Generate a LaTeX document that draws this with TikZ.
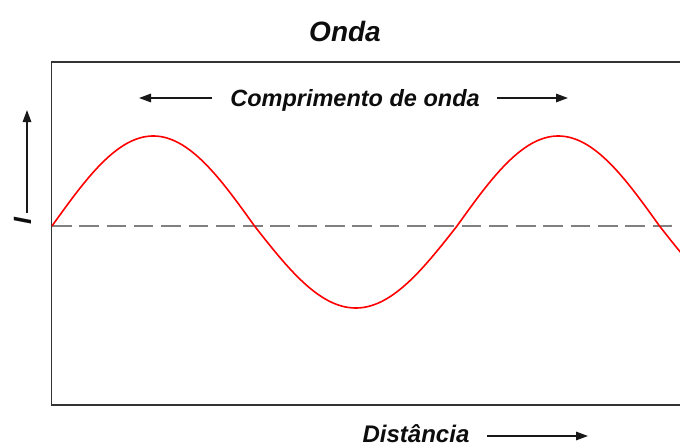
\documentclass[tikz,border=0pt]{standalone}
\usepackage{fontspec}
\setmainfont{Liberation Sans}
\usetikzlibrary{arrows.meta}
\begin{document}
\begin{tikzpicture}[x=1pt,y=-1pt,
  lbl/.style={inner sep=0pt, text=black!95},
  arr/.style={line width=1.4pt, black!90, -{Triangle[length=12pt,width=8.5pt]}},
  frame/.style={draw=black!80, line width=1.6pt},
  wave/.style={draw=red, line width=1.6pt},
  axisdash/.style={draw=black!50, line width=1.6pt, dash pattern=on 19.5pt off 7.8pt}]
\useasboundingbox (0,0) rectangle (680,447);
% frame (open on the right)
\coordinate (tl) at (51.5,62);
\coordinate (tr) at (682,62);
\coordinate (bl) at (51.5,405);
\coordinate (br) at (682,405);
\draw[frame] (tr) -- (tl) -- (bl) -- (br);
% zero line
\coordinate (d0) at (52,226);
\coordinate (d1) at (681,226);
\draw[axisdash] (d0) -- (d1);
% wave
\begin{scope}
\clip (51.5,55) rectangle (680,420);
\draw[wave] plot[domain=52:681, samples=320, smooth]
  (\x, {226 - sin((\x-52)/405*360)*(sin((\x-52)/405*360) > 0 ? 90 : 82)});
\end{scope}
% title
\node[lbl, font=\fontsize{28}{28}\selectfont\bfseries\itshape, anchor=base] (title) at (345,41.5) {Onda};
% wavelength label
\node[lbl, font=\fontsize{23.5}{23.5}\selectfont\bfseries\itshape, anchor=base] (wl) at (355,106.5) {Comprimento de onda};
\coordinate (wlL0) at (212,98);
\coordinate (wlL1) at (139,98);
\coordinate (wlR0) at (497,98);
\coordinate (wlR1) at (568,98);
\draw[arr] (wlL0) -- (wlL1);
\draw[arr] (wlR0) -- (wlR1);
% intensity axis
\node[lbl, font=\fontsize{25}{25}\selectfont\bfseries\itshape, rotate=90] (ilab) at (22.5,221.5) {I};
\coordinate (ia0) at (27,213);
\coordinate (ia1) at (27,110);
\draw[arr] (ia0) -- (ia1);
% distance label
\node[lbl, font=\fontsize{24}{24}\selectfont\bfseries\itshape, anchor=base, text depth=0pt] (dist) at (416,442.5) {Distância};
\coordinate (da0) at (487,436);
\coordinate (da1) at (588,436);
\draw[arr] (da0) -- (da1);
\end{tikzpicture}
\end{document}
